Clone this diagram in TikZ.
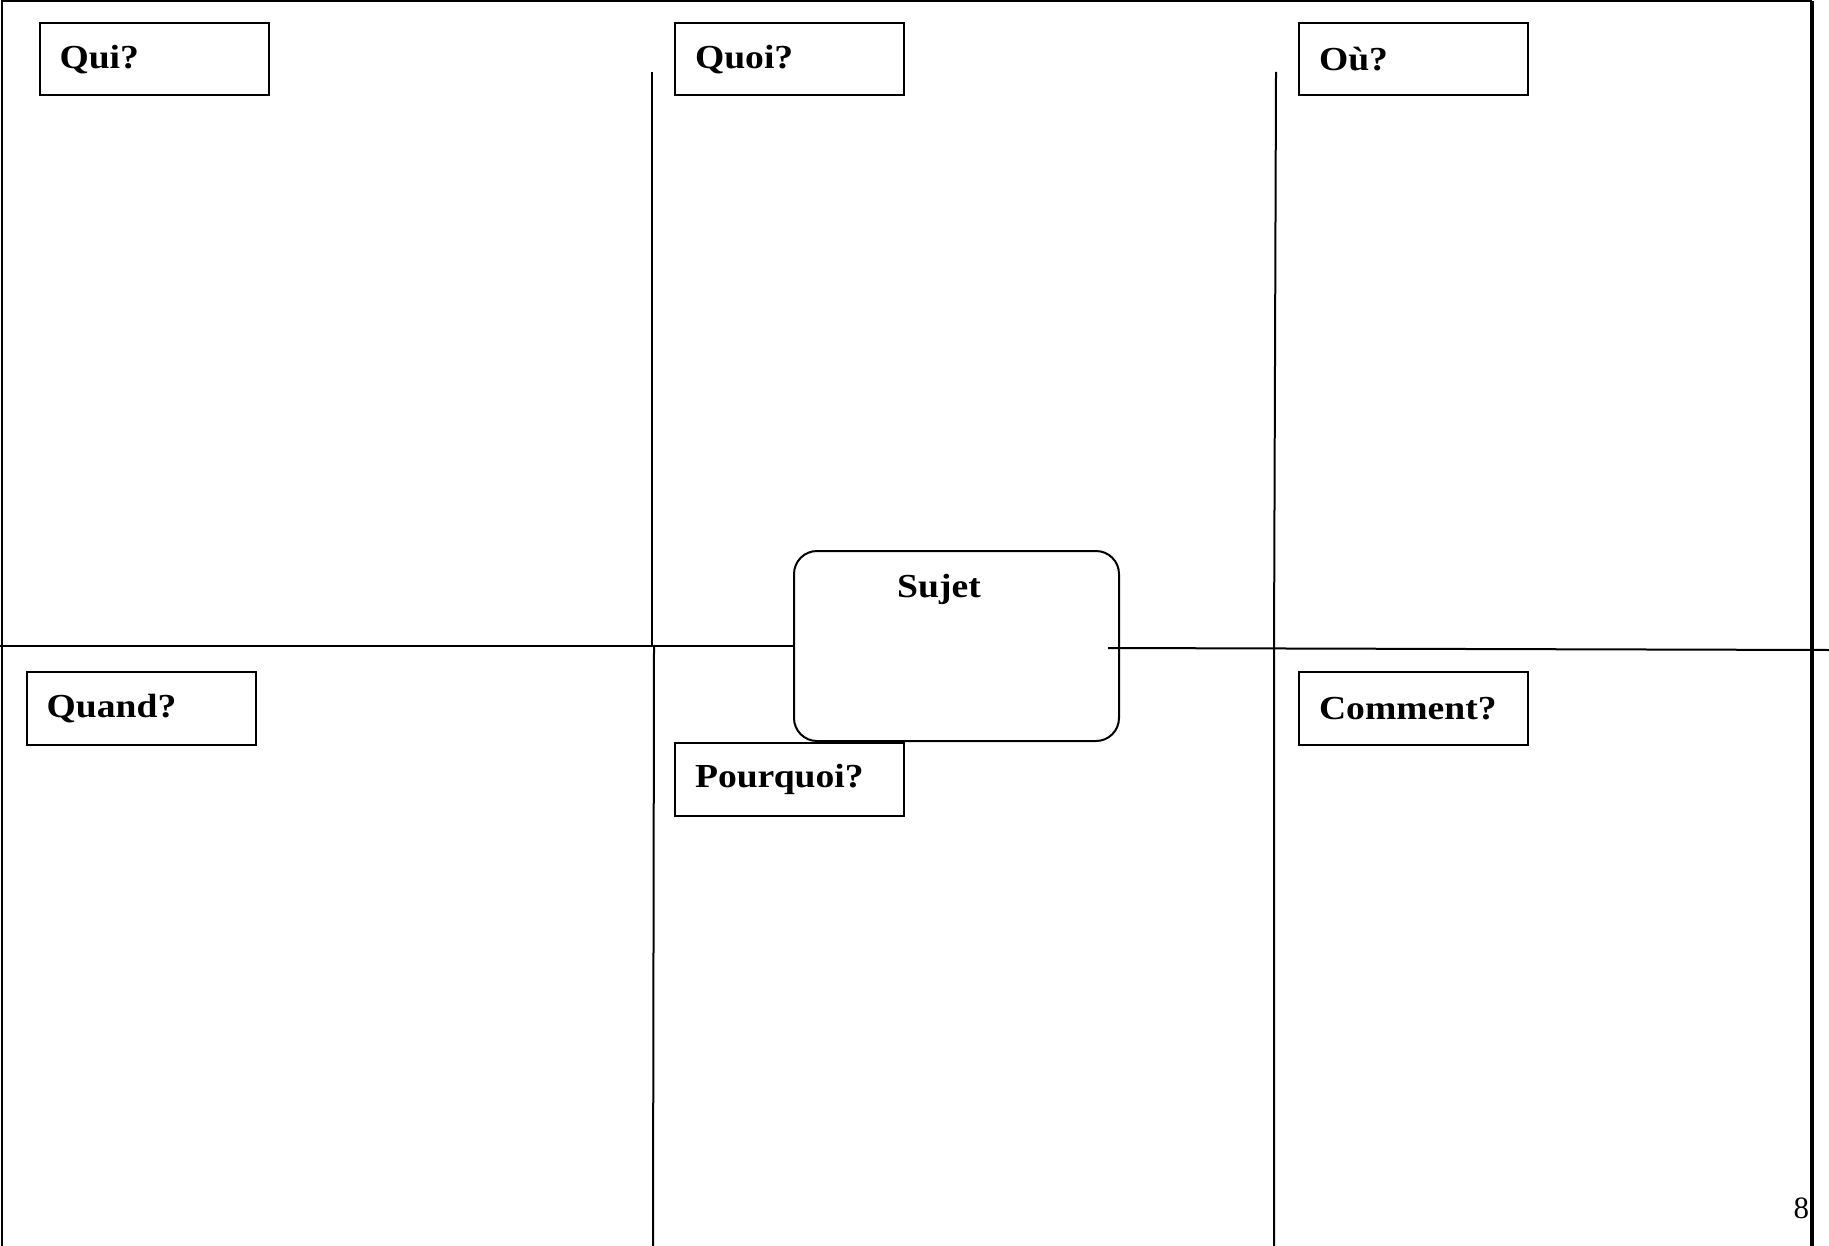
\documentclass[tikz,border=0pt]{standalone}
\usepackage{fontspec}
\setmainfont{Liberation Serif}
\newfontfamily\labelfont[FakeStretch=1.12]{Liberation Serif}
\usetikzlibrary{positioning}

\begin{document}
\begin{tikzpicture}[
      x=0.5pt, y=-0.5pt,
      line width=1pt,
      qbox/.style={draw, rectangle, anchor=north west, minimum height=36.25pt, text width=94.5pt, inner xsep=10pt, align=left, font=\labelfont\fontsize{16.8}{20}\selectfont\bfseries},
      sujetbox/.style={draw, rectangle, rounded corners=11.5pt, minimum width=162.5pt, minimum height=95pt},
      title_text/.style={inner sep=0pt, font=\labelfont\fontsize{16.8}{20}\selectfont\bfseries}
  ]
      \useasboundingbox (0,0) rectangle (1829,1246);

      % Page frame
      \coordinate (tl) at (2,1);
      \coordinate (bl) at (2,1246);
      \coordinate (tr) at (1812,1);
      \coordinate (br) at (1812,1246);
      \draw (bl) -- (tl) -- (tr);
      \draw[line width=2.2pt] (tr) -- (br);

      % Sujet (centre)
      \node[sujetbox] (sujet) at (956.5,646) {};
      \node[title_text, anchor=base] (sujettxt) at (939,597) {Sujet};

      % Horizontal line
      \coordinate (midL) at (0,646);
      \coordinate (midR0) at (1108,648);
      \coordinate (midR) at (1829,650);
      \draw (midL) -- (sujet.west);
      \draw (midR0) -- (midR);

      % Vertical lines
      \coordinate (v1a) at (652,72);
      \coordinate (v1b) at (652,647);
      \coordinate (v1c) at (654,647);
      \coordinate (v1d) at (653,1246);
      \draw (v1a) -- (v1b);
      \draw (v1c) -- (v1d);
      \coordinate (v2a) at (1276,72);
      \coordinate (v2b) at (1274,648);
      \coordinate (v2c) at (1274,1246);
      \draw (v2a) -- (v2b) -- (v2c);

      % Question boxes
      \node[qbox] (qui) at (38.5,22) {Qui?};
      \node[qbox] (quoi) at (674,22) {Quoi?};
      \node[qbox] (ou) at (1298,22) {Où?};
      \node[qbox] (quand) at (25.7,671) {Quand?};
      \node[qbox] (pourquoi) at (674,742) {Pourquoi?};
      \node[qbox] (comment) at (1298,671) {Comment?};

      % Page number
      \node[inner sep=0pt, anchor=base east, font=\fontsize{15.5}{18}\selectfont] (pagenum) at (1810,1218) {8};
  \end{tikzpicture}
\end{document}
